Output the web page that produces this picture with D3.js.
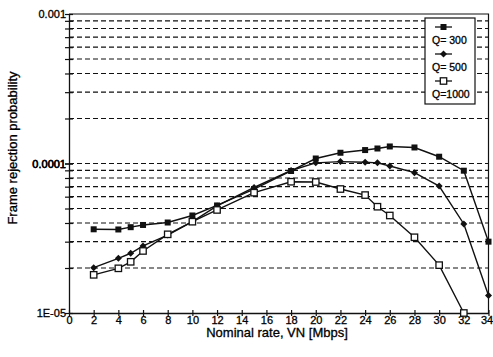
<!DOCTYPE html>
<html>
<head>
<meta charset="utf-8">
<script src="https://cdn.jsdelivr.net/npm/d3@7"></script>
<style>
  html, body { margin: 0; padding: 0; background: #fff; }
  svg { display: block; font-family: Arial, "Liberation Sans", sans-serif; }
  text { stroke: #000; stroke-width: 0.3px; fill: #000; }
</style>
</head>
<body>
<svg id="chart" width="493" height="357"></svg>
<script>
// Nominal rate (Mbps) at which each curve was evaluated
const rates = [2, 4, 5, 6, 8, 10, 12, 15, 18, 20, 22, 24, 25, 26, 28, 30, 32, 34];

// Frame rejection probability for each queue size Q
const q300  = [3.63e-5, 3.62e-5, 3.75e-5, 3.88e-5, 4.03e-5, 4.49e-5, 5.24e-5, 6.75e-5, 8.91e-5,
               1.08e-4, 1.18e-4, 1.23e-4, 1.26e-4, 1.30e-4, 1.28e-4, 1.11e-4, 8.95e-5, 3.0e-5];
const q500  = [2.01e-5, 2.32e-5, 2.51e-5, 2.81e-5, 3.32e-5, 4.08e-5, 5.2e-5, 6.91e-5, 8.98e-5,
               1.01e-4, 1.03e-4, 1.02e-4, 1.01e-4, 9.62e-5, 8.68e-5, 7.07e-5, 3.94e-5, 1.31e-5];
const q1000 = [1.80e-5, 1.99e-5, 2.20e-5, 2.60e-5, 3.36e-5, 4.08e-5, 4.89e-5, 6.38e-5, 7.55e-5,
               7.52e-5, 6.75e-5, 6.15e-5, 5.14e-5, 4.49e-5, 3.21e-5, 2.09e-5, 1.0e-5];

const seriesNames = ["Q= 300", "Q= 500", "Q=1000"];
const markerKinds = ["filledSquare", "diamond", "openSquare"];

const xTicks = d3.range(0, 35, 2);
const yMajor = [1e-5, 1e-4, 1e-3];
const yMajorLabels = ["1E-05", "0.0001", "0.001"];

const svg = d3.select("#chart");
const plotLeft = 69, plotRight = 488.5, plotTop = 14, plotBottom = 313;

const x = d3.scaleLinear().domain([0, 34]).range([plotLeft, plotRight]);
const y = d3.scaleLog().domain([1e-5, 1e-3]).range([plotBottom, plotTop]);

// minor log grid positions (2..9 x 1e-5, 1e-4, 2..9 x 1e-4)
const gridVals = [];
[1e-5, 1e-4].forEach(d => { for (let k = 2; k <= 9; k++) gridVals.push(k * d); });
gridVals.push(1e-4);

svg.append("g")
  .selectAll("line")
  .data(gridVals)
  .join("line")
  .attr("x1", plotLeft).attr("x2", plotRight)
  .attr("y1", d => y(d)).attr("y2", d => y(d))
  .attr("stroke", "#111")
  .attr("stroke-width", 1.2)
  .attr("stroke-dasharray", "5,3");

// frame: top and right edges
svg.append("path")
  .attr("d", `M${plotLeft},${plotTop}H${plotRight}V${plotBottom}`)
  .attr("fill", "none").attr("stroke", "#111").attr("stroke-width", 1.2);

// y axis with crossing tick marks at every log step
const yTickVals = gridVals.concat(yMajor);
const yAxis = d3.axisLeft(y)
  .tickValues(yTickVals)
  .tickSizeInner(4).tickSizeOuter(0)
  .tickFormat(d => {
    const i = yMajor.findIndex(v => Math.abs(v - d) / d < 1e-6);
    return i >= 0 ? yMajorLabels[i] : "";
  });
const gy = svg.append("g").attr("transform", `translate(${plotLeft},0)`).call(yAxis);
gy.select(".domain").attr("stroke", "#111").attr("stroke-width", 1.3);
gy.selectAll(".tick line").attr("x1", -4).attr("x2", 4).attr("stroke", "#111").attr("stroke-width", 1.2);
gy.selectAll(".tick text").attr("x", -3).attr("font-size", 11)
  .style("font-family", "Arial, 'Liberation Sans', sans-serif");

// x axis
const xAxis = d3.axisBottom(x).tickValues(xTicks).tickSizeInner(3).tickSizeOuter(0);
const gx = svg.append("g").attr("transform", `translate(0,${plotBottom})`).call(xAxis);
gx.select(".domain").attr("stroke", "#111").attr("stroke-width", 1.3);
gx.selectAll(".tick line").attr("y1", -3).attr("y2", 3).attr("stroke", "#111").attr("stroke-width", 1.2);
gx.selectAll(".tick text").attr("y", 3).attr("font-size", 11)
  .style("font-family", "Arial, 'Liberation Sans', sans-serif");
// keep the last label inside the page edge
gx.selectAll(".tick text").filter(d => d === 34).attr("dx", -2);

// axis titles
svg.append("text")
  .attr("x", 277).attr("y", 337)
  .attr("text-anchor", "middle")
  .attr("font-size", 13)
  .text("Nominal rate, VN [Mbps]");

svg.append("text")
  .attr("transform", "translate(17,148) rotate(-90)")
  .attr("text-anchor", "middle")
  .attr("font-size", 13)
  .text("Frame rejection probability");

// marker drawing helper
function drawMarker(g, kind, cx, cy) {
  if (kind === "filledSquare") {
    g.append("rect").attr("x", cx - 3).attr("y", cy - 3).attr("width", 6).attr("height", 6)
      .attr("fill", "#111");
  } else if (kind === "diamond") {
    g.append("path").attr("d", `M${cx},${cy - 3.5}L${cx + 3.5},${cy}L${cx},${cy + 3.5}L${cx - 3.5},${cy}Z`)
      .attr("fill", "#111");
  } else {
    g.append("rect").attr("x", cx - 3.2).attr("y", cy - 3.2).attr("width", 6.4).attr("height", 6.4)
      .attr("fill", "#fff").attr("stroke", "#111").attr("stroke-width", 1.3);
  }
}

const line = d3.line().x(d => x(d[0])).y(d => y(d[1]));
const allSeries = [q300, q500, q1000];

allSeries.forEach((vals, si) => {
  const pts = vals.map((v, i) => [rates[i], v]);
  const g = svg.append("g");
  g.append("path").attr("d", line(pts))
    .attr("fill", "none").attr("stroke", "#111").attr("stroke-width", 1.4);
  pts.forEach(p => drawMarker(g, markerKinds[si], x(p[0]), y(p[1])));
});

// legend
const lg = svg.append("g");
lg.append("rect").attr("x", 425).attr("y", 18).attr("width", 50).attr("height", 86)
  .attr("fill", "#fff").attr("stroke", "#111").attr("stroke-width", 1.2);
seriesNames.forEach((name, i) => {
  const ly = 27 + i * 27;
  lg.append("line").attr("x1", 435).attr("x2", 452).attr("y1", ly).attr("y2", ly)
    .attr("stroke", "#111").attr("stroke-width", 1.3);
  drawMarker(lg, markerKinds[i], 443.5, ly);
  lg.append("text").attr("x", 432).attr("y", ly + 17)
    .attr("font-size", 10.5).text(name);
});
</script>
</body>
</html>
